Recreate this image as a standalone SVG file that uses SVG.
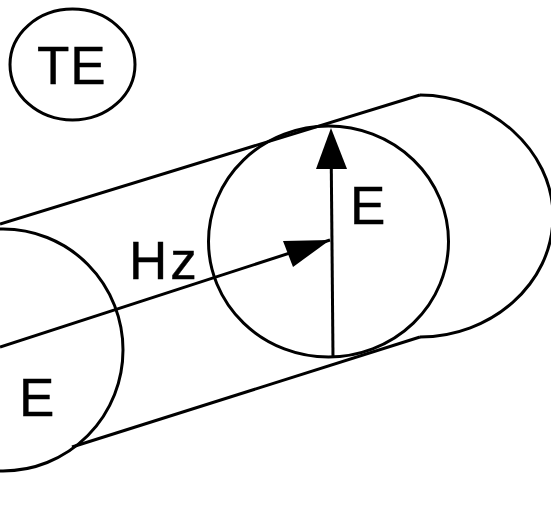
<svg xmlns="http://www.w3.org/2000/svg" width="551" height="522" viewBox="0 0 551 522">
<style>
.l{fill:none;stroke:#000;stroke-width:3}
.t{font-family:"Liberation Sans",Arial,sans-serif;font-size:53px;fill:#000;stroke:#000;stroke-width:.4}
.h{fill:#000}
</style>
<rect width="551" height="522" fill="#fff"/>
<g id="connectors">
<path class="l" d="M0 224L420 95"/>
<path class="l" d="M72 447L420 337"/>
<path class="l" d="M0 347L330 240"/>
<path class="l" d="M333 357L331 135"/>
<path class="h" d="M330 240L283 241L293 267Z"/>
<path class="h" d="M331 128L316 169L347 169Z"/>
</g>
<g id="te"><ellipse class="l" cx="72.500" cy="64.500" rx="62.500" ry="55.500"/><text class="t" x="37" y="84" letter-spacing="1">TE</text></g>
<g id="front-circle"><ellipse class="l" cx="328.500" cy="241.500" rx="120" ry="115.500"/></g>
<g id="back-arc"><path class="l" d="M420 95C490 95 553 150 553 216C553 285 490 337 420 337"/></g>
<g id="left-circle"><ellipse class="l" cx="3" cy="350" rx="120" ry="121"/></g>
<text class="t" x="350" y="224">E</text>
<text class="t" x="19" y="416">E</text>
<text class="t" x="129" y="279" letter-spacing="3">Hz</text>
</svg>
